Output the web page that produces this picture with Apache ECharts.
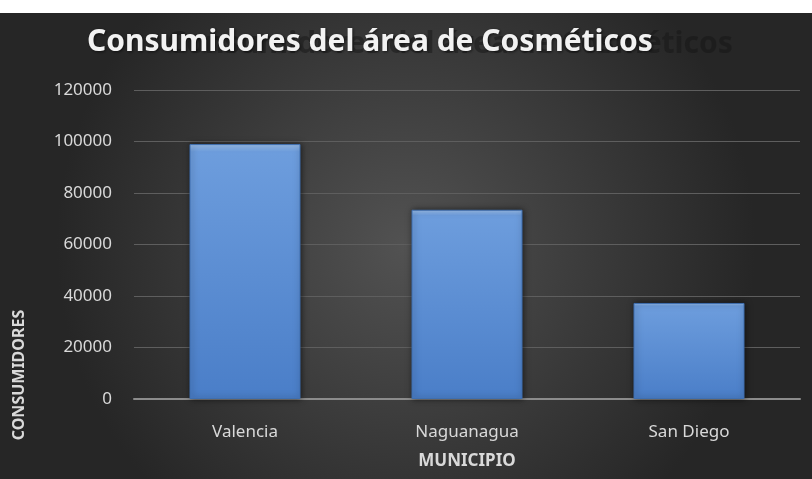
<!DOCTYPE html>
<html><head><meta charset="utf-8">
<script src="https://cdn.jsdelivr.net/npm/echarts@6/dist/echarts.min.js"></script>
<style>
html,body{margin:0;padding:0;background:#fff;width:812px;height:479px;overflow:hidden}
#c{position:absolute;left:0;top:13px;width:812px;height:466px}
</style></head><body>
<div id="c"></div>
<script>
const categories = ['Valencia', 'Naguanagua', 'San Diego'];
const consumidores = [99000, 73500, 37300];
const yTicks = [0, 20000, 40000, 60000, 80000, 100000, 120000];
const titleText = 'Consumidores del área de Cosméticos';

const chart = echarts.init(document.getElementById('c'));
const font = '"Noto Sans", "Open Sans", sans-serif';
chart.setOption({
  backgroundColor: {
    type: 'radial', x: 0.5, y: 0.5, r: 0.75,
    colorStops: [{offset: 0, color: '#525252'}, {offset: 1, color: '#262626'}]
  },
  animation: false,
  title: [
    {text: titleText, left: 162, top: 11, textStyle: {color: 'rgba(20,20,20,0.45)', fontSize: 30, fontWeight: 'bold', fontFamily: font}},
    {text: titleText, left: 82, top: 9, textStyle: {color: '#f2f2f2', fontSize: 30, fontWeight: 'bold', fontFamily: font,
      textShadowColor: 'rgba(0,0,0,0.6)', textShadowBlur: 3, textShadowOffsetX: 1, textShadowOffsetY: 1}}
  ],
  grid: {left: 134, right: 12, top: 77, bottom: 80},
  xAxis: {
    type: 'category', data: categories,
    name: 'MUNICIPIO', nameLocation: 'middle', nameGap: 54,
    nameTextStyle: {color: '#d9d9d9', fontSize: 17, fontWeight: 'bold', fontFamily: font},
    axisLine: {lineStyle: {color: '#8c8c8c', width: 2}},
    axisTick: {show: false},
    axisLabel: {color: '#d9d9d9', fontSize: 17, margin: 25, fontFamily: font}
  },
  yAxis: {
    type: 'value', min: yTicks[0], max: yTicks[yTicks.length - 1], interval: yTicks[1] - yTicks[0],
    axisLine: {show: false}, axisTick: {show: false},
    axisLabel: {color: '#d9d9d9', fontSize: 17, margin: 22, fontFamily: font, formatter: v => String(v)},
    splitLine: {lineStyle: {color: '#5e5e5e', width: 1}}
  },
  graphic: [{
    type: 'text', x: 19, y: 362, rotation: Math.PI / 2,
    style: {text: 'CONSUMIDORES', fill: '#d9d9d9', font: 'bold 16px ' + font, align: 'center', verticalAlign: 'middle'}
  }],
  series: [{
    type: 'bar', data: consumidores, barWidth: '50%',
    itemStyle: {
      color: {type: 'linear', x: 0, y: 0, x2: 0, y2: 1,
        colorStops: [{offset: 0, color: '#9cc0ec'}, {offset: 0.03, color: '#6d9ddd'}, {offset: 1, color: '#4a7ec8'}]},
      borderColor: '#3f6fb0', borderWidth: 1,
      shadowColor: 'rgba(0,0,0,0.55)', shadowBlur: 6, shadowOffsetX: 1
    }
  }]
});
</script></body></html>
